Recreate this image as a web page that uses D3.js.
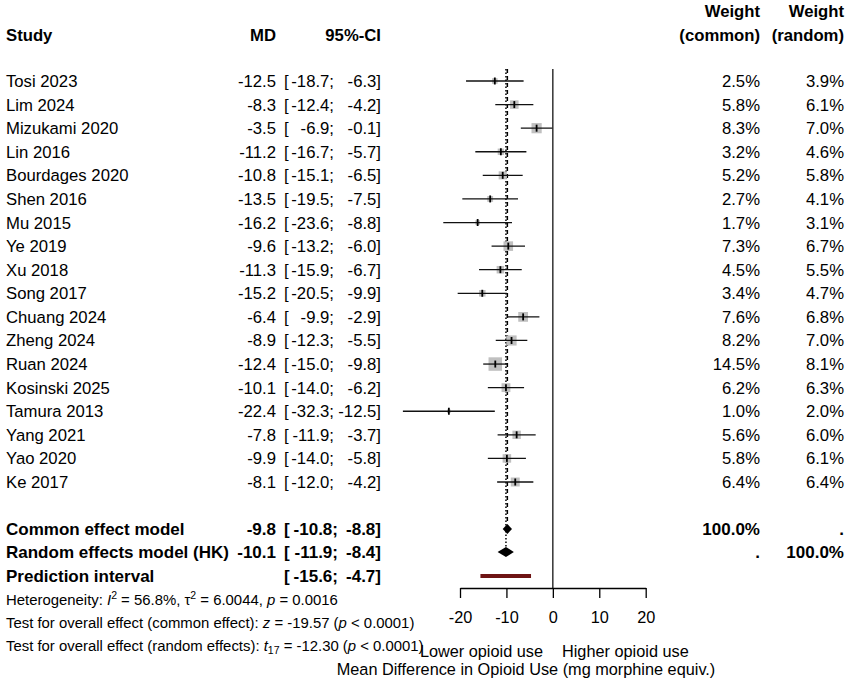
<!DOCTYPE html>
<html>
<head>
<meta charset="utf-8">
<script src="https://cdn.jsdelivr.net/npm/d3@7"></script>
<style>
  body { margin: 0; background: #fff; }
  svg { font-family: "Liberation Sans", Arial, sans-serif; }
</style>
</head>
<body>
<svg id="chart" width="850" height="680"></svg>
<script>
const studies = ["Tosi 2023","Lim 2024","Mizukami 2020","Lin 2016","Bourdages 2020","Shen 2016","Mu 2015","Ye 2019","Xu 2018","Song 2017","Chuang 2024","Zheng 2024","Ruan 2024","Kosinski 2025","Tamura 2013","Yang 2021","Yao 2020","Ke 2017"];
const md = [-12.5,-8.3,-3.5,-11.2,-10.8,-13.5,-16.2,-9.6,-11.3,-15.2,-6.4,-8.9,-12.4,-10.1,-22.4,-7.8,-9.9,-8.1];
const lower = [-18.7,-12.4,-6.9,-16.7,-15.1,-19.5,-23.6,-13.2,-15.9,-20.5,-9.9,-12.3,-15.0,-14.0,-32.3,-11.9,-14.0,-12.0];
const upper = [-6.3,-4.2,-0.1,-5.7,-6.5,-7.5,-8.8,-6.0,-6.7,-9.9,-2.9,-5.5,-9.8,-6.2,-12.5,-3.7,-5.8,-4.2];
const weightCommon = [2.5,5.8,8.3,3.2,5.2,2.7,1.7,7.3,4.5,3.4,7.6,8.2,14.5,6.2,1.0,5.6,5.8,6.4];
const weightRandom = [3.9,6.1,7.0,4.6,5.8,4.1,3.1,6.7,5.5,4.7,6.8,7.0,8.1,6.3,2.0,6.0,6.1,6.4];

const summaryLabels = ["Common effect model","Random effects model (HK)","Prediction interval"];
const summaryMD = [-9.8,-10.1,null];
const summaryLower = [-10.8,-11.9,-15.6];
const summaryUpper = [-8.8,-8.4,-4.7];
const summaryWCommon = ["100.0%",".",""];
const summaryWRandom = [".","100.0%",""];

const xTicks = [-20,-10,0,10,20];

const svg = d3.select("#chart");
const x = d3.scaleLinear().domain([-20,20]).range([460,645.7]);
const y = d3.scaleLinear().domain([0, studies.length-1]).range([81, 482]);
const ySum = [529, 552, 576];
const sizeScale = d3.scaleSqrt().domain([0, 14.5]).range([0, 13.5]);

const f1 = d => d.toFixed(1);
const FS = 16.7, FSB = 17;

// header
const hdr = svg.append("g").attr("font-weight","bold").attr("font-size",FS).attr("fill","#000");
hdr.append("text").attr("x",6).attr("y",41).text("Study");
hdr.append("text").attr("x",276).attr("y",41).attr("text-anchor","end").text("MD");
hdr.append("text").attr("x",381).attr("y",41).attr("text-anchor","end").text("95%-CI");
hdr.append("text").attr("x",760).attr("y",17).attr("text-anchor","end").text("Weight");
hdr.append("text").attr("x",760).attr("y",41).attr("text-anchor","end").text("(common)");
hdr.append("text").attr("x",844).attr("y",17).attr("text-anchor","end").text("Weight");
hdr.append("text").attr("x",844).attr("y",41).attr("text-anchor","end").text("(random)");

// reference lines
const lineTop = 69;
svg.append("line").attr("x1",x(0)).attr("x2",x(0)).attr("y1",lineTop).attr("y2",588)
  .attr("stroke","#000").attr("stroke-width",1.2);
svg.append("line").attr("x1",x(summaryMD[0])).attr("x2",x(summaryMD[0])).attr("y1",lineTop).attr("y2",524)
  .attr("stroke","#000").attr("stroke-width",1.5).attr("stroke-dasharray","4,3");
svg.append("line").attr("x1",x(summaryMD[1])).attr("x2",x(summaryMD[1])).attr("y1",lineTop).attr("y2",547)
  .attr("stroke","#000").attr("stroke-width",1.5).attr("stroke-dasharray","1.5,2");

// study rows
const rows = svg.append("g").attr("font-size",FS).attr("fill","#000");
studies.forEach((s,i) => {
  const cy = y(i), by = cy + 6;
  rows.append("text").attr("x",6).attr("y",by).text(s);
  rows.append("text").attr("x",276).attr("y",by).attr("text-anchor","end").text(f1(md[i]));
  rows.append("text").attr("x",284).attr("y",by).text("[");
  rows.append("text").attr("x",334).attr("y",by).attr("text-anchor","end").text(f1(lower[i]) + ";");
  rows.append("text").attr("x",381).attr("y",by).attr("text-anchor","end").text(f1(upper[i]) + "]");
  rows.append("text").attr("x",760).attr("y",by).attr("text-anchor","end").text(f1(weightCommon[i]) + "%");
  rows.append("text").attr("x",844).attr("y",by).attr("text-anchor","end").text(f1(weightRandom[i]) + "%");
  const sz = sizeScale(weightCommon[i]);
  svg.append("rect").attr("x",x(md[i]) - sz/2).attr("y",cy - sz/2).attr("width",sz).attr("height",sz)
    .attr("fill","#c0c0c0");
  svg.append("line").attr("x1",x(lower[i])).attr("x2",x(upper[i])).attr("y1",cy).attr("y2",cy)
    .attr("stroke","#111").attr("stroke-width",1.3);
  svg.append("line").attr("x1",x(md[i])).attr("x2",x(md[i])).attr("y1",cy-3.5).attr("y2",cy+3.5)
    .attr("stroke","#000").attr("stroke-width",1.8);
});

// summary rows
const sumG = svg.append("g").attr("font-size",FSB).attr("font-weight","bold").attr("fill","#000");
summaryLabels.forEach((s,i) => {
  const by = ySum[i] + 6;
  sumG.append("text").attr("x",6).attr("y",by).text(s);
  if (summaryMD[i] !== null) sumG.append("text").attr("x",276).attr("y",by).attr("text-anchor","end").text(f1(summaryMD[i]));
  sumG.append("text").attr("x",284).attr("y",by).text("[");
  sumG.append("text").attr("x",338).attr("y",by).attr("text-anchor","end").text(f1(summaryLower[i]) + ";");
  sumG.append("text").attr("x",381).attr("y",by).attr("text-anchor","end").text(f1(summaryUpper[i]) + "]");
  if (summaryWCommon[i]) sumG.append("text").attr("x",760).attr("y",by).attr("text-anchor","end").text(summaryWCommon[i]);
  if (summaryWRandom[i]) sumG.append("text").attr("x",844).attr("y",by).attr("text-anchor","end").text(summaryWRandom[i]);
});

// diamonds
[0,1].forEach(i => {
  const cy = ySum[i], h = 5;
  const pts = [[x(summaryLower[i]),cy],[x(summaryMD[i]),cy-h],[x(summaryUpper[i]),cy],[x(summaryMD[i]),cy+h]];
  svg.append("path").attr("d", d3.line()(pts) + "Z").attr("fill","#000");
});
// prediction interval
svg.append("line").attr("x1",x(summaryLower[2])).attr("x2",x(summaryUpper[2])).attr("y1",ySum[2]).attr("y2",ySum[2])
  .attr("stroke","#6e1414").attr("stroke-width",4);

// axis
const axis = d3.axisBottom(x).tickValues(xTicks).tickSize(10).tickSizeOuter(0).tickPadding(13.5)
  .tickFormat(d3.format("d"));
const ax = svg.append("g").attr("transform","translate(0,588)").call(axis);
ax.selectAll("path,line").attr("stroke","#000").attr("stroke-width",1.3);
ax.selectAll("text").attr("font-size",16.3).attr("font-family","Liberation Sans, Arial, sans-serif").attr("fill","#000")
  .text(d => d < 0 ? "-" + Math.abs(d) : d);

svg.append("text").attr("x",543).attr("y",657).attr("text-anchor","end").attr("font-size",16.3).text("Lower opioid use");
svg.append("text").attr("x",562).attr("y",657).attr("font-size",16.3).text("Higher opioid use");
svg.append("text").attr("x",526).attr("y",675).attr("text-anchor","middle").attr("font-size",16.3)
  .text("Mean Difference in Opioid Use (mg morphine equiv.)");

// statistics text
const st = svg.append("g").attr("font-size",14.9).attr("fill","#000");
const t1 = st.append("text").attr("x",6).attr("y",605);
t1.append("tspan").text("Heterogeneity: ");
t1.append("tspan").attr("font-style","italic").text("I");
t1.append("tspan").attr("font-size",10.5).attr("dy",-6).text("2");
t1.append("tspan").attr("dy",6).text(" = 56.8%, τ");
t1.append("tspan").attr("font-size",10.5).attr("dy",-6).text("2");
t1.append("tspan").attr("dy",6).text(" = 6.0044, ");
t1.append("tspan").attr("font-style","italic").text("p");
t1.append("tspan").text(" = 0.0016");

const t2 = st.append("text").attr("x",6).attr("y",628);
t2.append("tspan").text("Test for overall effect (common effect): ");
t2.append("tspan").attr("font-style","italic").text("z");
t2.append("tspan").text(" = -19.57 (");
t2.append("tspan").attr("font-style","italic").text("p");
t2.append("tspan").text(" < 0.0001)");

const t3 = st.append("text").attr("x",6).attr("y",651);
t3.append("tspan").text("Test for overall effect (random effects): ");
t3.append("tspan").attr("font-style","italic").text("t");
t3.append("tspan").attr("font-size",10.5).attr("dy",3).text("17");
t3.append("tspan").attr("dy",-3).text(" = -12.30 (");
t3.append("tspan").attr("font-style","italic").text("p");
t3.append("tspan").text(" < 0.0001)");
</script>
</body>
</html>
